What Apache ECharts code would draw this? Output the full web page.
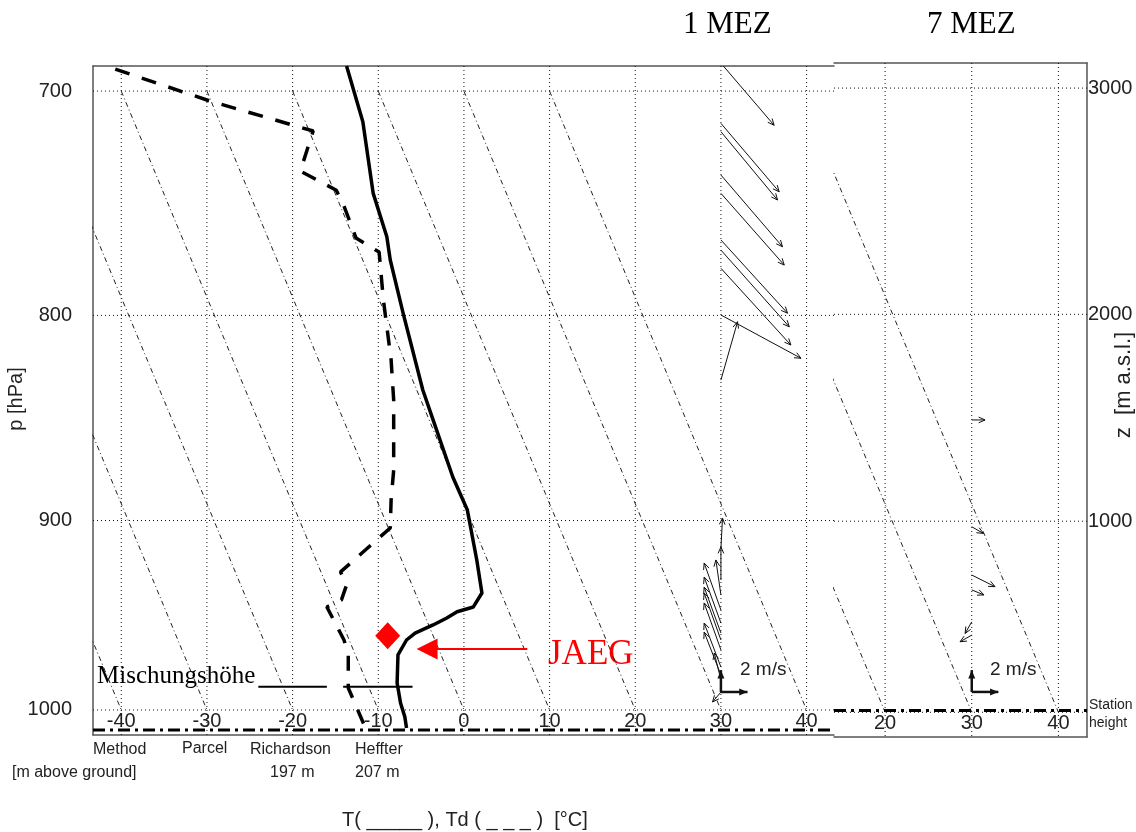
<!DOCTYPE html>
<html><head><meta charset="utf-8">
<script src="https://cdn.jsdelivr.net/npm/echarts@6/dist/echarts.min.js"></script>
<style>html,body{margin:0;padding:0;background:#fff}#c{width:1136px;height:832px}</style>
</head><body><div id="c"></div>
<script>
// ---------------- data ----------------
// temperature profile (hPa, °C)
const tempP = [689.4, 713.1, 744.3, 763.8, 774.4, 798.9, 835.4, 849.9, 878.1, 894.7, 920.2, 937.4, 944.7, 947.2, 950.5, 954.2, 958.5, 962.2, 970.2, 985.3, 996.2, 1003.8, 1009.9];
const tempT = [-13.7, -11.8, -10.6, -9.0, -8.6, -7.1, -4.8, -3.6, -1.3, 0.4, 1.5, 2.1, 1.1, -0.8, -2.0, -3.6, -5.7, -6.7, -7.7, -7.8, -7.4, -6.9, -6.7];
// dew point profile (hPa, °C)
const dewP = [690.7, 704.3, 717.1, 734.6, 743.0, 750.1, 764.4, 770.8, 792.8, 821.0, 840.2, 874.6, 889.6, 903.8, 926.4, 933.2, 941.0, 944.7, 962.2, 970.2, 988.0, 996.7, 1011.0];
const dewT = [-40.7, -29.6, -17.6, -19.1, -14.9, -14.0, -12.6, -9.9, -9.4, -8.5, -8.2, -8.2, -8.5, -8.6, -14.4, -13.7, -14.3, -16.0, -14.0, -13.5, -13.5, -12.7, -11.4];
// wind 1 MEZ (hPa, u m/s, v m/s)
const wind1P = [688.2, 713.8, 717.4, 736.3, 744.4, 765.3, 769.9, 778.2, 799.8, 830.6, 914.1, 930.6, 938.4, 946.3, 953.2, 958.5, 962.2, 967.5, 976.7, 981.0, 983.7, 990.2];
const wind1U = [4.0, 4.38, 4.26, 4.63, 4.76, 5.01, 5.14, 5.26, 6.02, 1.25, 0.12, 0.0, -0.38, -1.26, -1.26, -1.26, -1.26, -1.26, -1.26, -1.26, -0.5, -0.63];
const wind1V = [-5.7, -6.28, -6.27, -6.58, -6.58, -6.72, -7.04, -7.04, -3.97, 5.35, 2.75, 3.03, 3.21, 4.31, 4.22, 4.22, 4.31, 4.31, 4.04, 3.94, 2.48, -0.92];
// wind 7 MEZ
const wind7P = [850.0, 902.8, 927.4, 935.1, 951.7, 958.7];
const wind7U = [1.0, 0.87, 1.75, 0.92, -0.5, -0.88];
const wind7V = [0.0, -0.61, -1.07, -0.46, -1.07, -0.61];
const windColumnT = 30;
const windRefP = [990.2, 989.0];
const windRefSpeed = 2;
// diagram reference lines
const isotherms = [-40, -30, -20, -10, 0, 10, 20, 30, 40];
const isobars = [700, 800, 900, 1000];
const rightIsobars = [700, 800, 900];
const heightLabels = ['3000', '2000', '1000'];
const adiabatT700 = [-70, -60, -50, -40, -30, -20, -10, 0, 10];
const adiabatT1000 = [-40, -30, -20, -10, 0, 10, 20, 30, 40];
const stationP = [1011.0, 999.1];
// mixing height
const mixP = 987.3;
const mixSegT = [[-24.0, -16.0], [-14.1, -6.0]];
// station marker & pointer
const stationMark = [-8.9, 960.0];
const pointerP = 967.0;
const pointerT = [7.4, -4.3];
// axis extents
const leftPRange = [689.4, 1013.8];
const rightPRange = [689.5, 1013.5];
const leftTRange = [-43.3, 43.2];
const rightTRange = [14.1, 43.3];

// ---------------- helpers ----------------
const K = 0.286;
const fp = p => Math.pow(p, K);
const SX = 13.3, SY = 10.9; // px per m/s
const FONT = '"Liberation Sans", Arial, sans-serif';
const SERIF = '"Liberation Serif", "Times New Roman", serif';
const dotted = {type: [1, 3], color: '#111', width: 1};
const dashdot = {type: [5, 3, 1, 3], color: '#222', width: 1};

function seg(g, pts, ls, z) {
  return {type: 'line', xAxisIndex: g === 0 ? 0 : 2, yAxisIndex: g, data: pts,
    showSymbol: false, symbol: 'none', silent: true, clip: true, lineStyle: ls, z: z || 2};
}

function windRender(lw, filled) {
  return function (params, api) {
    const b = api.coord([api.value(0), api.value(1)]);
    const u = api.value(2), v = api.value(3);
    const t = [b[0] + u * SX, b[1] - v * SY];
    const ang = Math.atan2(t[1] - b[1], t[0] - b[0]);
    const L = filled ? 9 : 7, a = filled ? 0.4 : 0.42;
    const p1 = [t[0] - L * Math.cos(ang - a), t[1] - L * Math.sin(ang - a)];
    const p2 = [t[0] - L * Math.cos(ang + a), t[1] - L * Math.sin(ang + a)];
    const ch = [{type: 'line', shape: {x1: b[0], y1: b[1], x2: t[0], y2: t[1]},
      style: {stroke: '#111', lineWidth: lw}}];
    if (filled) ch.push({type: 'polygon', shape: {points: [t, p1, p2]}, style: {fill: '#111'}});
    else ch.push({type: 'polyline', shape: {points: [p1, t, p2]}, style: {stroke: '#111', lineWidth: 1, fill: null}});
    return {type: 'group', children: ch};
  };
}

const series = [];
[0, 1].forEach(g => {
  const tr = g === 0 ? leftTRange : rightTRange;
  const pr = g === 0 ? leftPRange : rightPRange;
  isotherms.filter(t => t > tr[0] && t < tr[1]).forEach(t =>
    series.push(seg(g, [[t, fp(pr[0])], [t, fp(pr[1])]], dotted, 1)));
  isobars.forEach(p => series.push(seg(g, [[tr[0], fp(p)], [tr[1], fp(p)]], dotted, 1)));
  adiabatT700.forEach((t, i) =>
    series.push(seg(g, [[t, fp(700)], [adiabatT1000[i], fp(1000)]], dashdot, 1)));
  series.push(seg(g, [[tr[0], fp(stationP[g])], [tr[1], fp(stationP[g])]],
    {type: [12, 5, 3, 5], color: '#000', width: 3}, 3));
});

// temperature & dew point
series.push(seg(0, tempT.map((t, i) => [t, fp(tempP[i])]), {color: '#000', width: 3.5, join: 'round'}, 5));
series.push(seg(0, dewT.map((t, i) => [t, fp(dewP[i])]), {color: '#000', width: 3.5, type: [15, 13]}, 5));
// mixing height markers
mixSegT.forEach(s => series.push(seg(0, [[s[0], fp(mixP)], [s[1], fp(mixP)]], {color: '#000', width: 2}, 5)));

// winds
series.push({type: 'custom', xAxisIndex: 0, yAxisIndex: 0, clip: true, silent: true, z: 6,
  renderItem: windRender(1, false),
  data: wind1P.map((p, i) => [windColumnT, fp(p), wind1U[i], wind1V[i]])});
series.push({type: 'custom', xAxisIndex: 2, yAxisIndex: 1, clip: true, silent: true, z: 6,
  renderItem: windRender(1, false),
  data: wind7P.map((p, i) => [windColumnT, fp(p), wind7U[i], wind7V[i]])});
[0, 1].forEach(g => series.push({type: 'custom', xAxisIndex: g === 0 ? 0 : 2, yAxisIndex: g, silent: true, z: 6,
  renderItem: windRender(2.5, true),
  data: [[windColumnT, fp(windRefP[g]), windRefSpeed, 0], [windColumnT, fp(windRefP[g]), 0, windRefSpeed]]}));

// station marker
series.push({type: 'scatter', xAxisIndex: 0, yAxisIndex: 0, symbol: 'diamond', symbolSize: [25, 27],
  itemStyle: {color: '#ff0000', opacity: 1}, data: [[stationMark[0], fp(stationMark[1])]], z: 7, silent: true});
// pointer arrow
series.push({type: 'lines', coordinateSystem: 'cartesian2d', xAxisIndex: 0, yAxisIndex: 0, z: 7, silent: true,
  symbol: ['none', 'triangle'], symbolSize: 21,
  lineStyle: {color: '#ff0000', width: 2, opacity: 1},
  data: [{coords: [[pointerT[0], fp(pointerP)], [pointerT[1], fp(pointerP)]]}]});

const labelStyle = {color: '#222', fontSize: 20, fontFamily: FONT};
const axLine = {show: true, onZero: false, lineStyle: {color: '#555', width: 1.5}};

const option = {
  animation: false,
  backgroundColor: '#fff',
  grid: [
    {left: 93, top: 66, width: 741, height: 669},
    {left: 834, top: 63, width: 253, height: 674}
  ],
  xAxis: [
    {type: 'value', gridIndex: 0, min: leftTRange[0], max: leftTRange[1], position: 'bottom',
      axisLine: axLine, axisTick: {show: false}, splitLine: {show: false},
      axisLabel: Object.assign({inside: true, margin: 4, customValues: isotherms}, labelStyle)},
    {type: 'value', gridIndex: 0, min: leftTRange[0], max: leftTRange[1], position: 'top',
      axisLine: axLine, axisTick: {show: false}, splitLine: {show: false}, axisLabel: {show: false}},
    {type: 'value', gridIndex: 1, min: rightTRange[0], max: rightTRange[1], position: 'bottom',
      axisLine: axLine, axisTick: {show: false}, splitLine: {show: false},
      axisLabel: Object.assign({inside: true, margin: 4, customValues: isotherms.filter(t => t > rightTRange[0] && t < rightTRange[1])}, labelStyle)},
    {type: 'value', gridIndex: 1, min: rightTRange[0], max: rightTRange[1], position: 'top',
      axisLine: axLine, axisTick: {show: false}, splitLine: {show: false}, axisLabel: {show: false}}
  ],
  yAxis: [
    {type: 'value', gridIndex: 0, inverse: true, min: fp(leftPRange[0]), max: fp(leftPRange[1]), position: 'left',
      axisLine: axLine, axisTick: {show: false}, splitLine: {show: false},
      axisLabel: Object.assign({margin: 21, customValues: isobars.map(fp),
        formatter: v => String(Math.round(Math.pow(v, 1 / K)))}, labelStyle)},
    {type: 'value', gridIndex: 1, inverse: true, min: fp(rightPRange[0]), max: fp(rightPRange[1]), position: 'right',
      axisLine: axLine, axisTick: {show: false}, splitLine: {show: false},
      axisLabel: Object.assign({margin: 1, customValues: rightIsobars.map(fp),
        formatter: v => {
          const i = rightIsobars.findIndex(p => Math.abs(fp(p) - v) < 1e-6);
          return i >= 0 ? heightLabels[i] : '';
        }}, labelStyle)}
  ],
  graphic: [
    {type: 'text', x: 683, y: 25, style: {text: '1 MEZ', font: '31px ' + SERIF, fill: '#000', verticalAlign: 'middle'}},
    {type: 'text', x: 927, y: 25, style: {text: '7 MEZ', font: '31px ' + SERIF, fill: '#000', verticalAlign: 'middle'}},
    {type: 'text', x: 16, y: 399, rotation: Math.PI / 2, style: {text: 'p [hPa]', font: '20px ' + FONT, fill: '#222', align: 'center', verticalAlign: 'middle'}},
    {type: 'text', x: 1124, y: 385, rotation: Math.PI / 2, style: {text: 'z  [m a.s.l.]', font: '22px ' + FONT, fill: '#222', align: 'center', verticalAlign: 'middle'}},
    {type: 'text', x: 1089, y: 705, style: {text: 'Station', font: '14px ' + FONT, fill: '#222', verticalAlign: 'middle'}},
    {type: 'text', x: 1089, y: 723, style: {text: 'height', font: '14px ' + FONT, fill: '#222', verticalAlign: 'middle'}},
    {type: 'text', x: 740, y: 670, style: {text: '2 m/s', font: '19px ' + FONT, fill: '#222', verticalAlign: 'middle'}},
    {type: 'text', x: 990, y: 670, style: {text: '2 m/s', font: '19px ' + FONT, fill: '#222', verticalAlign: 'middle'}},
    {type: 'text', x: 97, y: 676, style: {text: 'Mischungshöhe', font: '25px ' + SERIF, fill: '#000', verticalAlign: 'middle'}},
    {type: 'text', x: 548, y: 655, style: {text: 'JAEG', font: '35px ' + SERIF, fill: '#ff0000', verticalAlign: 'middle'}},
    {type: 'text', x: 93, y: 750, style: {text: 'Method', font: '16px ' + FONT, fill: '#222', verticalAlign: 'middle'}},
    {type: 'text', x: 182, y: 749, style: {text: 'Parcel', font: '16px ' + FONT, fill: '#222', verticalAlign: 'middle'}},
    {type: 'rect', z: 100, shape: {x: 178, y: 753, width: 56, height: 8}, style: {fill: '#fff'}},
    {type: 'text', x: 250, y: 750, style: {text: 'Richardson', font: '16px ' + FONT, fill: '#222', verticalAlign: 'middle'}},
    {type: 'text', x: 355, y: 750, style: {text: 'Heffter', font: '16px ' + FONT, fill: '#222', verticalAlign: 'middle'}},
    {type: 'text', x: 12, y: 773, style: {text: '[m above ground]', font: '16px ' + FONT, fill: '#222', verticalAlign: 'middle'}},
    {type: 'text', x: 270, y: 773, style: {text: '197 m', font: '16px ' + FONT, fill: '#222', verticalAlign: 'middle'}},
    {type: 'text', x: 355, y: 773, style: {text: '207 m', font: '16px ' + FONT, fill: '#222', verticalAlign: 'middle'}},
    {type: 'text', x: 342, y: 820, style: {text: 'T( _____ ), Td ( _ _ _ )  [°C]', font: '20px ' + FONT, fill: '#222', verticalAlign: 'middle'}}
  ],
  series: series
};
const chart = echarts.init(document.getElementById('c'), null, {renderer: 'canvas'});
chart.setOption(option);
</script></body></html>
